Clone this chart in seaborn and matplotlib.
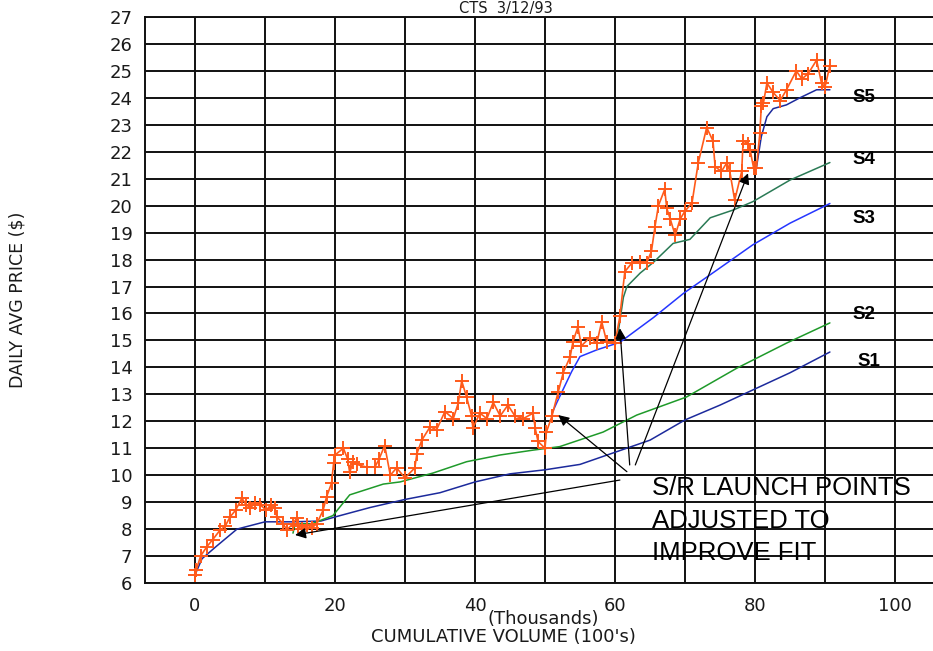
import numpy as np
import pandas as pd
import matplotlib
matplotlib.use("Agg")
import matplotlib.pyplot as plt
import seaborn as sns

# precos medios diarios (volume acumulado em milhares, preco em $)
preco_x = [0.0, 0.2, 0.8, 1.7, 2.5, 3.6, 4.3, 5.0, 5.8, 6.7, 7.3, 7.9, 8.6, 9.3,
           10.2, 10.8, 11.4, 11.7, 12.6, 13.1, 14.0, 14.5, 14.7, 15.3, 16.0, 16.7,
           17.4, 18.3, 18.8, 19.5, 19.8, 20.0, 21.2, 21.8, 22.1, 22.6, 23.1, 24.5,
           25.7, 26.3, 27.1, 27.9, 28.8, 30.0, 31.4, 31.7, 32.4, 33.6, 34.5, 35.7,
           36.9, 37.6, 38.1, 38.8, 39.5, 39.7, 40.7, 41.7, 42.6, 43.6, 44.7, 45.7,
           46.9, 48.3, 48.6, 49.0, 50.0, 50.2, 51.0, 51.9, 52.6, 53.6, 54.0, 54.7,
           55.2, 56.4, 57.4, 58.1, 58.8, 60.0, 60.7, 61.4, 62.4, 63.6, 64.5, 65.2,
           65.7, 66.2, 67.1, 67.4, 67.9, 68.6, 69.3, 70.0, 71.0, 71.9, 73.1, 74.0,
           74.3, 75.2, 76.0, 76.4, 77.1, 78.1, 78.3, 79.0, 79.3, 79.8, 80.2, 80.7,
           80.9, 81.2, 81.7, 82.6, 83.6, 84.5, 85.9, 86.7, 87.6, 88.8, 89.5, 90.0,
           90.7]
preco_y = [6.3, 6.5, 7.0, 7.35, 7.6, 7.97, 8.1, 8.45, 8.7, 9.15, 8.9, 8.8, 8.95, 8.9,
           8.7, 8.9, 8.8, 8.45, 8.2, 7.97, 8.2, 8.4, 8.1, 8.0, 8.15, 8.05,
           8.2, 8.7, 9.2, 9.7, 10.45, 10.75, 11.0, 10.6, 10.1, 10.5, 10.4, 10.3,
           10.3, 10.6, 11.1, 10.0, 10.27, 9.9, 10.27, 10.8, 11.3, 11.8, 11.68, 12.36,
           12.1, 12.67, 13.5, 12.9, 12.2, 11.75, 12.3, 12.1, 12.7, 12.2, 12.6, 12.2,
           12.1, 12.3, 11.75, 11.25, 11.0, 11.6, 12.2, 13.1, 13.8, 14.4, 14.96, 15.5,
           14.8, 15.1, 14.9, 15.7, 14.96, 14.9, 15.9, 17.55, 17.87, 17.9, 17.87, 18.3,
           19.2, 20.0, 20.6, 19.9, 19.5, 18.9, 19.5, 19.8, 20.1, 21.6, 22.9, 22.4,
           21.45, 21.27, 21.6, 21.27, 20.2, 21.27, 22.4, 22.3, 22.07, 21.4, 21.4, 22.7,
           23.7, 23.8, 24.55, 24.2, 23.9, 24.3, 25.0, 24.7, 24.9, 25.4, 24.55, 24.4,
           25.2]

# linhas de suporte/resistencia
s1_x = [0, 1, 3, 6, 10, 14, 18, 20, 25, 30, 35, 40, 45, 50, 55, 60, 65, 70, 75, 80, 85, 90.7]
s1_y = [6.3, 6.9, 7.35, 8.0, 8.27, 8.27, 8.3, 8.45, 8.8, 9.1, 9.35, 9.75, 10.05, 10.2,
        10.4, 10.85, 11.3, 12.05, 12.6, 13.2, 13.8, 14.57]
s2_x = [14, 14.3, 16.7, 19.7, 22.1, 26.9, 29.3, 34, 38.8, 43.6, 48.3, 52.1, 58.3, 63.1,
        70.2, 77.4, 84.5, 90.7]
s2_y = [7.85, 8.2, 8.2, 8.5, 9.27, 9.67, 9.75, 10.08, 10.5, 10.75, 10.93, 11.06, 11.6,
        12.23, 12.9, 13.97, 14.9, 15.65]
s3_x = [51.0, 51.7, 53.8, 55, 57.4, 60.7, 65.5, 69.8, 74.5, 79.7, 85, 90.7]
s3_y = [12.3, 12.7, 13.84, 14.4, 14.65, 14.93, 15.85, 16.75, 17.6, 18.55, 19.35, 20.08]
s4_x = [60.4, 61.2, 61.7, 63.6, 65.5, 68.3, 70.7, 73.6, 76.9, 79.7, 85, 90.7]
s4_y = [15.2, 16.6, 17.0, 17.5, 17.9, 18.6, 18.75, 19.55, 19.84, 20.15, 20.95, 21.6]
s5_x = [80.2, 80.9, 81.7, 82.6, 84.5, 86.4, 88.8, 90.7]
s5_y = [21.4, 22.56, 23.3, 23.6, 23.74, 24.0, 24.3, 24.3]

nomes_series = ['S1', 'S2', 'S3', 'S4', 'S5']
cores_series = ['#1c2a9c', '#1f9a2a', '#2536ff', '#2a7a55', '#1c2a9c']
rotulos_pos = [(94.6, 14.2), (93.9, 15.98), (93.9, 19.54), (93.9, 21.7), (93.9, 24.03)]

x_ticks = [0, 10, 20, 30, 40, 50, 60, 70, 80, 90, 100]
x_rotulos = ['0', '', '20', '', '40', '', '60', '', '80', '', '100']
y_ticks = list(range(6, 28))

sns.set_style("white")
plt.rcParams['font.family'] = ['DejaVu Sans']

fig = plt.figure(figsize=(9.33, 6.51), dpi=100)
ax = fig.add_axes([145 / 933, 68 / 651, 1.02 - 145 / 933, (583 - 17) / 651])

# linhas S1..S5
for sx, sy, cor in zip([s1_x, s2_x, s3_x, s4_x, s5_x],
                       [s1_y, s2_y, s3_y, s4_y, s5_y], cores_series):
    df_s = pd.DataFrame({'x': sx, 'y': sy})
    sns.lineplot(data=df_s, x='x', y='y', ax=ax, color=cor, lw=1.1,
                 sort=False, estimator=None, zorder=3)

df_preco = pd.DataFrame({'x': preco_x, 'y': preco_y})
sns.lineplot(data=df_preco, x='x', y='y', ax=ax, color='#ff5a1a', lw=1.2,
             marker='+', markersize=10, markeredgewidth=1.4,
             markeredgecolor='#ff5a1a', sort=False, estimator=None, zorder=4)

ax.set_xlim(-50 / 7, (0.02 * 933 + 933 - 195) / 7)
ax.set_ylim(6, 27)
ax.set_xticks(x_ticks)
ax.set_xticklabels(x_rotulos)
ax.set_yticks(y_ticks)
ax.set_yticklabels([str(v) for v in y_ticks])
ax.tick_params(axis='both', length=0, labelsize=13, colors='#1a1a1a')
ax.tick_params(axis='x', pad=10)
ax.tick_params(axis='y', pad=9)
ax.grid(True, color='#111111', lw=1.4)
ax.set_axisbelow(True)
for lado in ['left', 'bottom', 'top']:
    ax.spines[lado].set_color('#111111')
    ax.spines[lado].set_linewidth(1.4)
ax.spines['right'].set_visible(False)
ax.set_xlabel('')
ax.set_ylabel('')

# rotulos das series
for nome, (tx, ty) in zip(nomes_series, rotulos_pos):
    ax.text(tx, ty, nome, fontsize=13.5, fontweight='bold', ha='left', va='center',
            family='Liberation Sans', color='black')

# texto e setas
for linha, ty in zip(['S/R LAUNCH POINTS', 'ADJUSTED TO', 'IMPROVE FIT'],
                     [9.52, 8.30, 7.10]):
    ax.text(65.3, ty, linha, fontsize=18.5, ha='left', va='center',
            family='Liberation Sans', color='black')

setas = [((60.7, 9.82), (14.3, 7.78)),
         ((61.7, 10.13), (51.9, 12.23)),
         ((62.1, 10.38), (60.7, 15.45)),
         ((62.9, 10.38), (79.0, 21.2))]
for origem, ponta in setas:
    ax.annotate('', xy=ponta, xytext=origem,
                arrowprops=dict(arrowstyle='-|>', color='black', lw=0.9,
                                mutation_scale=16, shrinkA=0, shrinkB=0),
                zorder=5)

fig.text(18 / 933, 1 - 300 / 651, 'DAILY AVG PRICE ($)', rotation=90, fontsize=12.5,
         ha='center', va='center', color='#1a1a1a')
fig.text(543 / 933, 1 - 619 / 651, '(Thousands)', fontsize=13, ha='center',
         va='center', color='#1a1a1a')
fig.text(503 / 933, 1 - 637 / 651, "CUMULATIVE VOLUME (100's)", fontsize=13,
         ha='center', va='center', color='#1a1a1a')
fig.text(506 / 933, 1 - 8 / 651, 'CTS  3/12/93', fontsize=10.5, ha='center',
         va='center', color='#1a1a1a')

fig.savefig('out.png', dpi=100)
